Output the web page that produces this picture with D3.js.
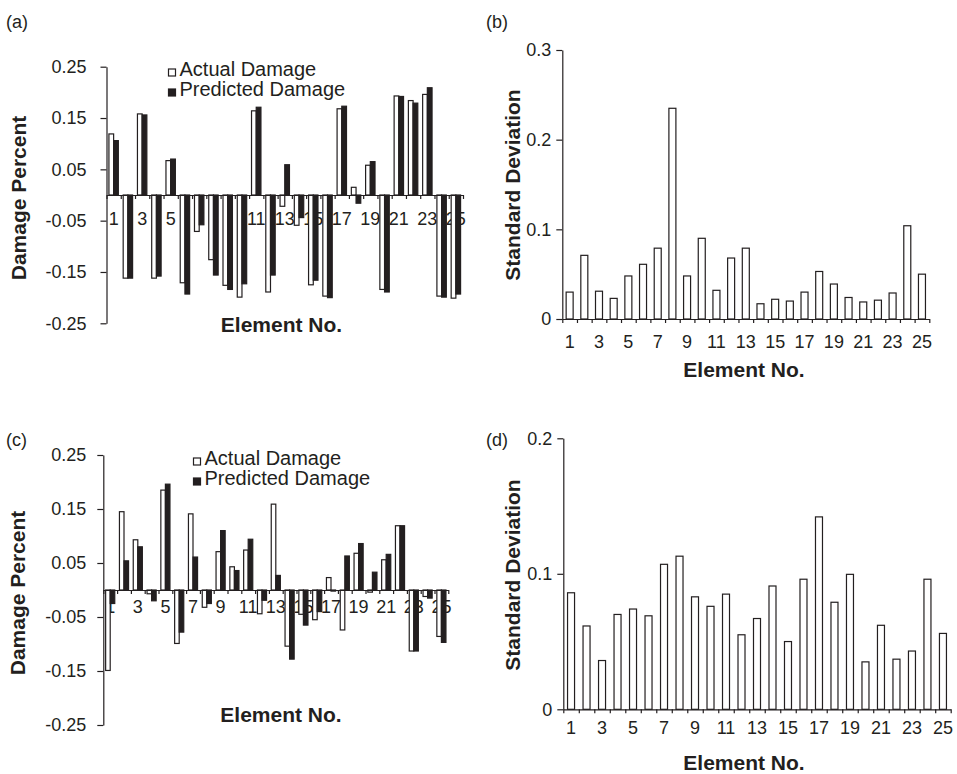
<!DOCTYPE html>
<html>
<head>
<meta charset="utf-8">
<script src="https://cdn.jsdelivr.net/npm/d3@7/dist/d3.min.js"></script>
<style>
  html, body { margin: 0; padding: 0; background: #fff; }
  svg { display: block; }
  text { font-family: "Liberation Sans", Arial, Helvetica, sans-serif; fill: #231f20; }
</style>
</head>
<body>
<svg id="chart" width="957" height="774"></svg>
<script>
// ---------------- data ----------------
const elements = [1,2,3,4,5,6,7,8,9,10,11,12,13,14,15,16,17,18,19,20,21,22,23,24,25];
const xTickLabels = [1,3,5,7,9,11,13,15,17,19,21,23,25];
const seriesNames = ["Actual Damage", "Predicted Damage"];

// panel (a)
const actualA = [0.119,-0.162,0.158,-0.162,0.067,-0.171,-0.071,-0.126,-0.176,-0.199,0.164,-0.189,-0.022,-0.059,-0.175,-0.197,0.168,0.015,0.058,-0.184,0.193,0.184,0.196,-0.197,-0.201];
const predA   = [0.106,-0.162,0.156,-0.158,0.070,-0.193,-0.058,-0.156,-0.184,-0.173,0.171,-0.156,0.059,-0.044,-0.166,-0.200,0.173,-0.016,0.065,-0.189,0.192,0.179,0.209,-0.199,-0.193];
// panel (b)
const stdB = [0.030,0.071,0.031,0.023,0.048,0.061,0.079,0.235,0.048,0.090,0.032,0.068,0.079,0.017,0.022,0.020,0.030,0.053,0.039,0.024,0.019,0.021,0.029,0.104,0.050];
// panel (c)
const actualC = [-0.149,0.145,0.093,-0.007,0.185,-0.099,0.141,-0.032,0.071,0.043,0.074,-0.044,0.159,-0.104,-0.045,-0.055,0.023,-0.074,0.068,-0.004,0.056,0.119,-0.113,-0.012,-0.086];
const predC   = [-0.025,0.054,0.080,-0.020,0.196,-0.078,0.061,-0.025,0.110,0.036,0.094,-0.019,0.027,-0.128,-0.065,-0.040,-0.002,0.063,0.086,0.033,0.066,0.119,-0.113,-0.015,-0.097];
// panel (d)
const stdD = [0.086,0.0615,0.036,0.070,0.074,0.069,0.107,0.113,0.083,0.076,0.085,0.055,0.067,0.091,0.050,0.096,0.142,0.079,0.0996,0.035,0.062,0.037,0.043,0.096,0.056];

const damageTicks = [-0.25,-0.15,-0.05,0.05,0.15,0.25];
const stdTicksB = [0, 0.1, 0.2, 0.3];
const stdTicksD = [0, 0.1, 0.2];

// ---------------- drawing ----------------
const svg = d3.select("#chart");
const INK = "#231f20";

function styleAxis(g, fontSize) {
  g.selectAll("path.domain").attr("stroke", INK).attr("stroke-width", 1.2);
  g.selectAll(".tick line").attr("stroke", INK).attr("stroke-width", 1.2);
  g.selectAll(".tick text").style("font-size", fontSize + "px").attr("fill", INK);
}

function panelLabel(txt, x, y) {
  svg.append("text").attr("x", x).attr("y", y).style("font-size", "18px").text(txt);
}

function damagePanel(cfg) {
  const g = svg.append("g");
  const x = d3.scaleBand().domain(elements).range([cfg.x0, cfg.x1]).padding(0);
  const xb = d3.scaleLinear().domain([0.5, 25.5]).range([cfg.x0, cfg.x1]);
  const y = d3.scaleLinear().domain([-0.25, 0.25]).range([cfg.yBottom, cfg.yTop]);
  const zeroY = y(0);

  // x tick labels (drawn first, bars overlap them)
  const xl = g.append("g").attr("transform", `translate(0,${zeroY})`)
    .call(d3.axisBottom(x).tickValues(xTickLabels).tickSize(0).tickPadding(cfg.labelPad));
  xl.select("path.domain").remove();
  xl.selectAll(".tick text").style("font-size", "18px").attr("fill", INK);

  // y axis
  const ya = g.append("g").attr("transform", `translate(${cfg.x0},0)`)
    .call(d3.axisLeft(y).tickValues(damageTicks).tickSize(6).tickSizeOuter(0)
      .tickPadding(cfg.yPad).tickFormat(d => d.toFixed(2)));
  styleAxis(ya, 18);

  const bw = x.bandwidth() * 0.33;
  const rows = elements.map((e, i) => ({ e, a: cfg.actual[i], p: cfg.pred[i] }));
  g.selectAll("rect.act").data(rows).join("rect")
    .attr("x", d => x(d.e) + x.bandwidth()/2 - bw)
    .attr("width", bw)
    .attr("y", d => y(Math.max(0, d.a)))
    .attr("height", d => Math.abs(y(d.a) - zeroY))
    .attr("fill", "#fff").attr("stroke", INK).attr("stroke-width", 1.2);
  g.selectAll("rect.pred").data(rows).join("rect")
    .attr("x", d => x(d.e) + x.bandwidth()/2)
    .attr("width", bw)
    .attr("y", d => y(Math.max(0, d.p)))
    .attr("height", d => Math.abs(y(d.p) - zeroY))
    .attr("fill", INK).attr("stroke", INK).attr("stroke-width", 1.2);

  // x axis line at zero with boundary ticks
  const xa = g.append("g").attr("transform", `translate(0,${zeroY})`)
    .call(d3.axisBottom(xb).tickValues(d3.range(0.5, 26, 1)).tickSize(4).tickSizeOuter(0).tickFormat(""));
  styleAxis(xa, 18);

  // legend
  seriesNames.forEach((name, i) => {
    const by = cfg.legY + i * 20;
    g.append("rect").attr("x", cfg.legX).attr("y", by - 7).attr("width", 7).attr("height", 7)
      .attr("fill", i === 0 ? "#fff" : INK).attr("stroke", INK).attr("stroke-width", 1.2);
    g.append("text").attr("x", cfg.legX + 11).attr("y", by).style("font-size", "20px").text(name);
  });

  // axis titles
  g.append("text").attr("x", cfg.xTitleX).attr("y", cfg.xTitleY).attr("text-anchor", "middle")
    .style("font-size", "21px").style("font-weight", "bold").text("Element No.");
  g.append("text").attr("transform", `translate(${cfg.yTitleX},${cfg.yTitleY}) rotate(-90)`)
    .attr("text-anchor", "middle").style("font-size", "21px").style("font-weight", "bold")
    .text("Damage Percent");
}

function stdPanel(cfg) {
  const g = svg.append("g");
  const x = d3.scaleBand().domain(elements).range([cfg.x0, cfg.x1]).padding(0);
  const xb = d3.scaleLinear().domain([0.5, 25.5]).range([cfg.x0, cfg.x1]);
  const y = d3.scaleLinear().domain([0, cfg.yMax]).range([cfg.yBottom, cfg.yTop]);

  const ya = g.append("g").attr("transform", `translate(${cfg.x0},0)`)
    .call(d3.axisLeft(y).tickValues(cfg.ticks).tickSize(6).tickSizeOuter(0).tickPadding(5)
      .tickFormat(d => d === 0 ? "0" : d.toFixed(1)));
  styleAxis(ya, 18);

  const bw = cfg.barW;
  g.selectAll("rect.sd").data(elements.map((e, i) => ({ e, v: cfg.values[i] }))).join("rect")
    .attr("x", d => x(d.e) + x.bandwidth()/2 - bw/2)
    .attr("width", bw)
    .attr("y", d => y(d.v))
    .attr("height", d => y(0) - y(d.v))
    .attr("fill", "#fff").attr("stroke", INK).attr("stroke-width", 1.2);

  const xa = g.append("g").attr("transform", `translate(0,${cfg.yBottom})`)
    .call(d3.axisBottom(xb).tickValues(d3.range(0.5, 26, 1)).tickSize(4).tickSizeOuter(0).tickFormat(""));
  styleAxis(xa, 18);
  const xl = g.append("g").attr("transform", `translate(0,${cfg.yBottom})`)
    .call(d3.axisBottom(x).tickValues(xTickLabels).tickSize(0).tickPadding(cfg.labelPad));
  xl.select("path.domain").remove();
  xl.selectAll(".tick text").style("font-size", "18px").attr("fill", INK);

  g.append("text").attr("x", cfg.xTitleX).attr("y", cfg.xTitleY).attr("text-anchor", "middle")
    .style("font-size", "21px").style("font-weight", "bold").text("Element No.");
  g.append("text").attr("transform", `translate(${cfg.yTitleX},${cfg.yTitleY}) rotate(-90)`)
    .attr("text-anchor", "middle").style("font-size", "21px").style("font-weight", "bold")
    .text("Standard Deviation");
}

panelLabel("(a)", 6, 28);
panelLabel("(b)", 486, 28);
panelLabel("(c)", 6, 446);
panelLabel("(d)", 486, 446);

damagePanel({ actual: actualA, pred: predA, x0: 106.5, x1: 463, yTop: 66.7, yBottom: 323.3,
  labelPad: 17, yPad: 14, legX: 168.5, legY: 76, xTitleX: 281.5, xTitleY: 332,
  yTitleX: 26, yTitleY: 198 });
damagePanel({ actual: actualC, pred: predC, x0: 103.3, x1: 448.3, yTop: 455, yBottom: 725,
  labelPad: 10, yPad: 11, legX: 193.5, legY: 465, xTitleX: 281, xTitleY: 722,
  yTitleX: 25, yTitleY: 593 });
stdPanel({ values: stdB, x0: 562.3, x1: 929.3, yTop: 50, yBottom: 319, yMax: 0.3, ticks: stdTicksB,
  barW: 7, labelPad: 16, xTitleX: 744, xTitleY: 377, yTitleX: 520, yTitleY: 185 });
stdPanel({ values: stdD, x0: 563.3, x1: 950.7, yTop: 438.3, yBottom: 709.3, yMax: 0.2, ticks: stdTicksD,
  barW: 7, labelPad: 12, xTitleX: 744, xTitleY: 770, yTitleX: 520, yTitleY: 575 });
</script>
</body>
</html>
